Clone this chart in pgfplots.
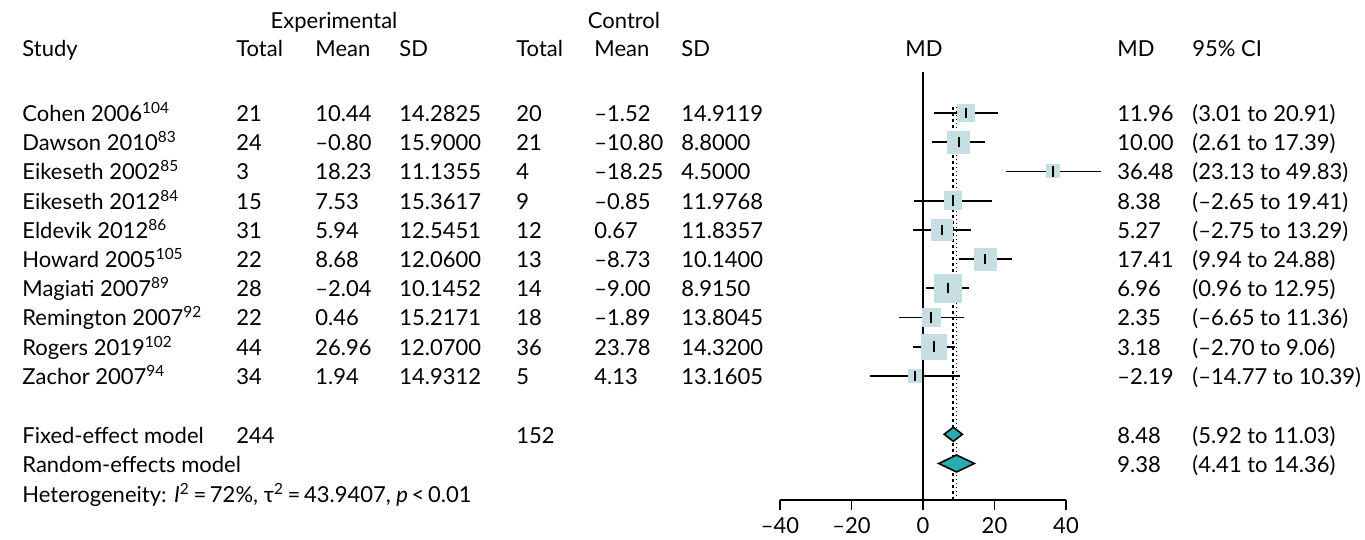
\documentclass[border=0pt]{standalone}
\usepackage{fontspec}
\setmainfont{Lato}
\usepackage{pgfplots}
\pgfplotsset{compat=1.18}
\usepackage{pgfplotstable}
\definecolor{boxc}{RGB}{197,222,225}
\definecolor{diac}{RGB}{42,172,175}

\pgfplotstableread{
y md lo hi
-1 11.96 3.01 20.91
-2 10.00 2.61 17.39
-3 36.48 23.13 49.83
-4 8.38 -2.65 19.41
-5 5.27 -2.75 13.29
-6 17.41 9.94 24.88
-7 6.96 0.96 12.95
-8 2.35 -6.65 11.36
-9 3.18 -2.70 9.06
-10 -2.19 -14.77 10.39
}\studies

\newcommand\fs{\fontsize{11}{13}\selectfont}
% box: x, y, half side in pt
\newcommand\bx[3]{\addplot[color=boxc, only marks, mark=square*, mark size=#3pt,
  mark options={color=boxc, draw=boxc, fill=boxc, line width=0pt}] coordinates {(#1,#2)};}
\def\rowy{121.5}
\newcommand\row[9]{%
  \node[anchor=base west] at (22,\rowy) {#1};
  \node[anchor=base west] at (236,\rowy) {#2};
  \node[anchor=base west] at (315,\rowy) {#3};
  \node[anchor=base west] at (399,\rowy) {#4};
  \node[anchor=base west] at (516,\rowy) {#5};
  \node[anchor=base west] at (594,\rowy) {#6};
  \node[anchor=base west] at (681,\rowy) {#7};
  \node[anchor=base west] at (1117,\rowy) {#8};
  \node[anchor=base west] at (1192,\rowy) {#9};
  \pgfmathsetmacro\tmpy{\rowy+29.2}\xdef\rowy{\tmpy}%
}

\begin{document}
\begin{tikzpicture}
\begin{axis}[
  at={(390pt,-250pt)}, anchor=south west,
  width=143pt, height=250pt, scale only axis,
  xmin=-40, xmax=40, ymin=-14.25, ymax=2.87,
  clip=false,
  axis x line=bottom, axis y line=none,
  x axis line style={-, line width=0.8pt, black},
  xtick={-40,-20,0,20,40},
  xticklabels={–40,–20,0,20,40},
  tick align=outside, major tick length=5pt,
  xtick style={line width=0.8pt, black},
  ticklabel style={font=\fs},
]
% reference lines
\addplot[black, line width=0.8pt] coordinates {(0,0.41) (0,-14.25)};
\addplot[black, line width=0.9pt, dash pattern=on 1.6pt off 1.4pt] coordinates {(8.48,-0.79) (8.48,-14.25)};
\addplot[black, line width=0.9pt, dash pattern=on 0.8pt off 1.2pt] coordinates {(9.38,-0.79) (9.38,-14.25)};
% boxes (half side in pt)
\bx{11.96}{-1}{4.18}
\bx{10.00}{-2}{5.5}
\bx{36.48}{-3}{3.25}
\bx{8.38}{-4}{4.43}
\bx{5.27}{-5}{5.08}
\bx{17.41}{-6}{5.5}
\bx{6.96}{-7}{6.93}
\bx{2.35}{-8}{4.43}
\bx{3.18}{-9}{6.25}
\bx{-2.19}{-10}{3.18}
% CIs and centre ticks
\addplot[only marks, mark=|, mark size=2.6pt, mark options={line width=1pt, black},
  error bars/.cd, x dir=both, x explicit, error mark=none,
  error bar style={line width=0.9pt, black}]
  table[x=md, y=y,
    x error plus expr=\thisrow{hi}-\thisrow{md},
    x error minus expr=\thisrow{md}-\thisrow{lo}] {\studies};
% diamonds
\addplot[fill=diac, draw=black, line width=0.8pt] coordinates
  {(5.92,-12) (8.48,-11.76) (11.03,-12) (8.48,-12.24)} --cycle;
\addplot[fill=diac, draw=black, line width=0.8pt] coordinates
  {(4.41,-13) (9.38,-12.71) (14.36,-13) (9.38,-13.29)} --cycle;
\end{axis}

\begin{scope}[x=0.5pt, y=-0.5pt, font=\fs, inner sep=0pt]
\path (0,0) rectangle (1365,536);
\node[anchor=base] at (334,28.5) {Experimental};
\node[anchor=base] at (624,28.5) {Control};
\node[anchor=base west] at (22,56.5) {Study};
\node[anchor=base west] at (236,56.5) {Total};
\node[anchor=base west] at (315,56.5) {Mean};
\node[anchor=base west] at (399,56.5) {SD};
\node[anchor=base west] at (516,56.5) {Total};
\node[anchor=base west] at (594,56.5) {Mean};
\node[anchor=base west] at (681,56.5) {SD};
\node[anchor=base] at (924,56.5) {MD};
\node[anchor=base west] at (1117,56.5) {MD};
\node[anchor=base west] at (1192,56.5) {95\% CI};

\row{Cohen 2006\textsuperscript{104}}{21}{10.44}{14.2825}{20}{–1.52}{14.9119}{11.96}{(3.01 to 20.91)}
\row{Dawson 2010\textsuperscript{83}}{24}{–0.80}{15.9000}{21}{–10.80}{8.8000}{10.00}{(2.61 to 17.39)}
\row{Eikeseth 2002\textsuperscript{85}}{3}{18.23}{11.1355}{4}{–18.25}{4.5000}{36.48}{(23.13 to 49.83)}
\row{Eikeseth 2012\textsuperscript{84}}{15}{7.53}{15.3617}{9}{–0.85}{11.9768}{8.38}{(–2.65 to 19.41)}
\row{Eldevik 2012\textsuperscript{86}}{31}{5.94}{12.5451}{12}{0.67}{11.8357}{5.27}{(–2.75 to 13.29)}
\row{Howard 2005\textsuperscript{105}}{22}{8.68}{12.0600}{13}{–8.73}{10.1400}{17.41}{(9.94 to 24.88)}
\row{Magiati 2007\textsuperscript{89}}{28}{–2.04}{10.1452}{14}{–9.00}{8.9150}{6.96}{(0.96 to 12.95)}
\row{Remington 2007\textsuperscript{92}}{22}{0.46}{15.2171}{18}{–1.89}{13.8045}{2.35}{(–6.65 to 11.36)}
\row{Rogers 2019\textsuperscript{102}}{44}{26.96}{12.0700}{36}{23.78}{14.3200}{3.18}{(–2.70 to 9.06)}
\row{Zachor 2007\textsuperscript{94}}{34}{1.94}{14.9312}{5}{4.13}{13.1605}{–2.19}{(–14.77 to 10.39)}

\node[anchor=base west] at (22,443) {Fixed-effect model};
\node[anchor=base west] at (236,443) {244};
\node[anchor=base west] at (516,443) {152};
\node[anchor=base west] at (1117,443) {8.48};
\node[anchor=base west] at (1192,443) {(5.92 to 11.03)};
\node[anchor=base west] at (22,472) {Random-effects model};
\node[anchor=base west] at (1117,472) {9.38};
\node[anchor=base west] at (1192,472) {(4.41 to 14.36)};
\node[anchor=base west] at (22,502) {Heterogeneity: \textit{I}\textsuperscript{2}\,=\,72\%, τ\textsuperscript{2}\,=\,43.9407, \textit{p}\,<\,0.01};
\end{scope}
\end{tikzpicture}
\end{document}
